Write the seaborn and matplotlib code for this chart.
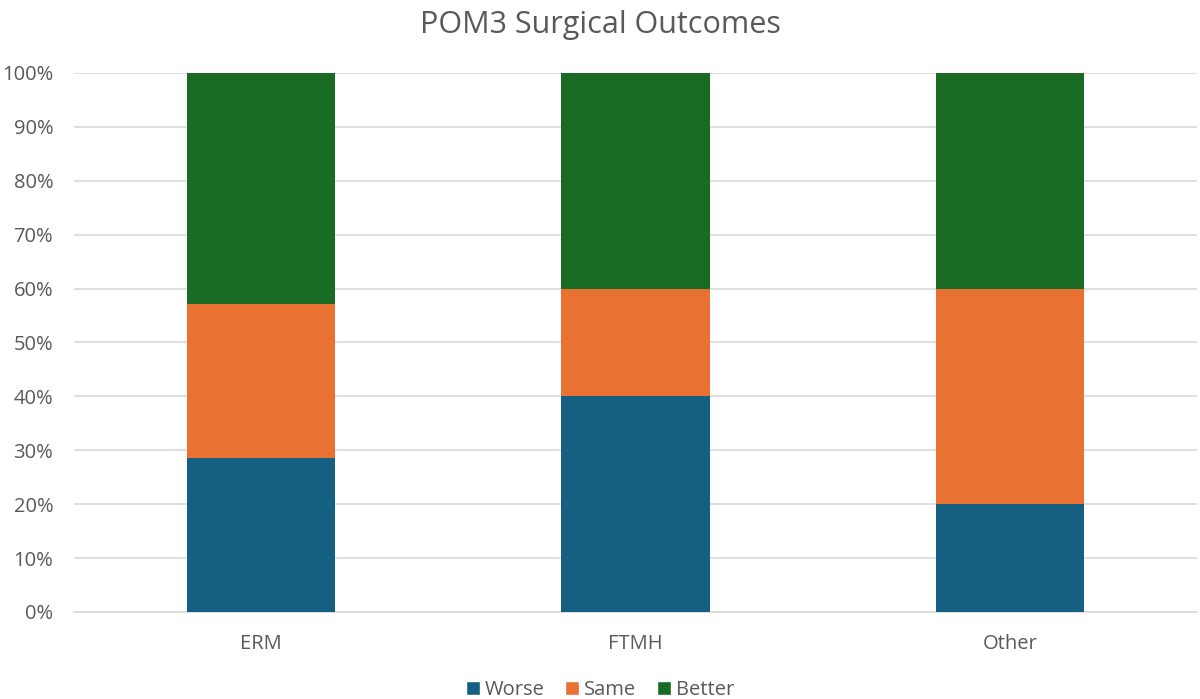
import matplotlib
matplotlib.use("Agg")
import matplotlib.pyplot as plt
import seaborn as sns
import pandas as pd
import numpy as np
from matplotlib.patches import Patch
from matplotlib.ticker import PercentFormatter

categories = ["ERM", "FTMH", "Other"]
worse = [28.57, 40.0, 20.0]
same = [28.57, 20.0, 40.0]
better = [42.86, 40.0, 40.0]
series_names = ["Worse", "Same", "Better"]
colors = {"Worse": "#156082", "Same": "#E97132", "Better": "#196B24"}
title = "POM3 Surgical Outcomes"

sns.set_theme(style="white")
plt.rcParams["font.family"] = ["Open Sans", "DejaVu Sans"]

fig = plt.figure(figsize=(12, 6.99), dpi=100)
ax = fig.add_axes([0.0617, 0.1245, 0.9358, 0.7711])

w = np.array(worse); s = np.array(same); b = np.array(better)
layers = [("Better", w + s + b), ("Same", w + s), ("Worse", w)]
for name, vals in layers:
    df = pd.DataFrame({"cat": categories, "val": vals})
    sns.barplot(data=df, x="cat", y="val", color=colors[name], width=0.396,
                ax=ax, saturation=1, zorder=3, linewidth=0)

ax.set_ylim(0, 100)
ax.set_xlim(-0.5, 2.5)
ax.set_yticks(np.arange(0, 101, 10))
ax.yaxis.set_major_formatter(PercentFormatter(decimals=0))
ax.grid(axis="y", color="#D9D9D9", linewidth=1.2, zorder=0)
ax.set_axisbelow(True)
for sp in ["left", "right", "top"]:
    ax.spines[sp].set_visible(False)
ax.spines["bottom"].set_color("#D9D9D9")
ax.spines["bottom"].set_linewidth(1.2)
ax.set_xlabel("")
ax.set_ylabel("")
ax.tick_params(axis="both", length=0, labelsize=14.5, colors="#595959")
ax.tick_params(axis="x", pad=16)
ax.tick_params(axis="y", pad=15)

fig.suptitle(title, fontsize=22, color="#595959", y=0.985)

handles = [Patch(facecolor=colors[n], label=n) for n in series_names]
fig.legend(handles=handles, loc="lower center", ncol=3, frameon=False,
           fontsize=14.5, labelcolor="#595959", handlelength=0.7, handleheight=0.7,
           handletextpad=0.25, columnspacing=1.0, bbox_to_anchor=(0.5, -0.028))

fig.savefig("out.png", dpi=100, facecolor="white")
